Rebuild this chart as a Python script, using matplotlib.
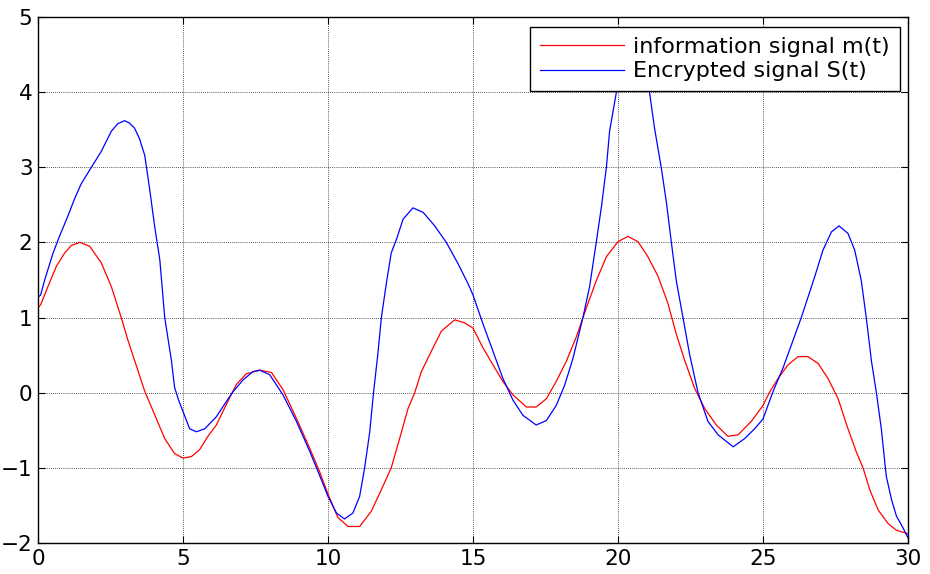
import matplotlib
matplotlib.use("Agg")
import matplotlib.pyplot as plt

# information signal m(t) (red)
t_m = [0.0, 0.09, 0.34, 0.63, 0.92, 1.15, 1.44, 1.78, 2.18, 2.53, 2.87, 3.10, 3.45, 3.68,
       4.02, 4.37, 4.71, 5.0, 5.29, 5.57, 5.86, 6.15, 6.49, 6.84, 7.18, 7.64, 8.05, 8.45,
       8.91, 9.37, 9.71, 10.0, 10.34, 10.69, 11.09, 11.49, 11.84, 12.18, 12.47, 12.76,
       12.99, 13.22, 13.56, 13.91, 14.37, 14.71, 15.0, 15.34, 15.69, 16.03, 16.38, 16.84,
       17.18, 17.53, 17.87, 18.22, 18.56, 18.91, 19.25, 19.60, 20.0, 20.34, 20.69, 21.03,
       21.38, 21.72, 22.01, 22.30, 22.64, 22.99, 23.39, 23.79, 24.14, 24.60, 25.0, 25.23,
       25.52, 25.86, 26.21, 26.55, 26.90, 27.24, 27.59, 27.93, 28.22, 28.45, 28.68, 28.97,
       29.31, 29.60, 29.94, 30.0]
m_vals = [1.13, 1.17, 1.41, 1.68, 1.86, 1.96, 2.0, 1.95, 1.73, 1.41, 1.0, 0.70, 0.29, 0.02,
          -0.29, -0.61, -0.81, -0.87, -0.85, -0.76, -0.58, -0.43, -0.16, 0.11, 0.25, 0.30, 0.27, 0.04,
          -0.34, -0.74, -1.05, -1.35, -1.66, -1.78, -1.78, -1.58, -1.29, -1.0, -0.61, -0.21,
          0.0, 0.28, 0.55, 0.82, 0.97, 0.93, 0.86, 0.60, 0.37, 0.15, -0.03, -0.19,
          -0.19, -0.08, 0.15, 0.42, 0.74, 1.13, 1.49, 1.81, 2.01, 2.08, 2.01, 1.81,
          1.55, 1.19, 0.78, 0.43, 0.06, -0.21, -0.43, -0.58, -0.56, -0.38, -0.17, 0.01,
          0.19, 0.37, 0.48, 0.48, 0.39, 0.19, -0.08, -0.48, -0.79, -1.0, -1.29, -1.56,
          -1.74, -1.83, -1.87, -1.88]

# Encrypted signal S(t) (blue)
t_s = [0.0, 0.09, 0.23, 0.52, 0.75, 1.03, 1.26, 1.49, 1.84, 2.18, 2.53, 2.75, 2.99, 3.15,
       3.33, 3.50, 3.68, 3.85, 4.02, 4.20, 4.37, 4.60, 4.71, 4.85, 5.0, 5.23, 5.46, 5.75,
       6.15, 6.49, 6.72, 7.07, 7.41, 7.64, 7.99, 8.45, 8.91, 9.37, 9.71, 10.0, 10.29, 10.57,
       10.86, 11.09, 11.26, 11.44, 11.57, 11.72, 11.84, 12.01, 12.18, 12.36, 12.59, 12.93,
       13.28, 13.68, 14.08, 14.48, 14.83, 15.0, 15.34, 15.69, 16.03, 16.38, 16.72, 17.18,
       17.53, 17.87, 18.16, 18.45, 18.79, 19.02, 19.25, 19.43, 19.60, 19.71, 19.94, 20.15,
       20.35, 20.5, 20.65, 20.85, 21.09, 21.26, 21.49, 21.67, 21.84, 22.01, 22.24, 22.47,
       22.76, 23.10, 23.45, 23.97, 24.37, 24.71, 25.0, 25.34, 25.69, 26.03, 26.32, 26.55,
       26.78, 27.07, 27.36, 27.62, 27.93, 28.16, 28.39, 28.56, 28.74, 28.91, 29.08, 29.25,
       29.43, 29.60, 29.83, 30.0]
s_vals = [1.27, 1.30, 1.50, 1.86, 2.09, 2.35, 2.58, 2.78, 3.0, 3.21, 3.48, 3.58, 3.62, 3.59,
          3.52, 3.38, 3.16, 2.71, 2.22, 1.77, 1.0, 0.43, 0.07, -0.10, -0.25, -0.48, -0.52, -0.48,
          -0.32, -0.12, 0.01, 0.17, 0.28, 0.30, 0.24, -0.03, -0.38, -0.78, -1.10, -1.38, -1.60, -1.68,
          -1.60, -1.38, -1.01, -0.52, 0.0, 0.52, 1.0, 1.45, 1.86, 2.04, 2.31, 2.46,
          2.40, 2.22, 2.0, 1.72, 1.45, 1.30, 0.92, 0.55, 0.19, -0.10, -0.30, -0.43,
          -0.37, -0.17, 0.10, 0.46, 1.0, 1.41, 2.0, 2.48, 3.0, 3.48, 3.99, 4.4,
          4.65, 4.7, 4.62, 4.35, 3.99, 3.52, 3.0, 2.53, 2.0, 1.49, 1.0, 0.51,
          0.0, -0.38, -0.56, -0.72, -0.61, -0.48, -0.35, 0.01, 0.33, 0.69, 1.0, 1.27,
          1.54, 1.90, 2.14, 2.22, 2.12, 1.90, 1.49, 1.0, 0.42, 0.0, -0.48, -1.11,
          -1.42, -1.64, -1.80, -1.93]

labels = ["information signal m(t)", "Encrypted signal S(t)"]
x_ticks = [0, 5, 10, 15, 20, 25, 30]
y_ticks = [-2, -1, 0, 1, 2, 3, 4, 5]

W, H = 930, 574
fig = plt.figure(figsize=(W / 100, H / 100), dpi=100)
ax = fig.add_axes([38 / W, 1 - 543 / H, (908 - 38) / W, (543 - 17) / H])

ax.plot(t_m, m_vals, color="#ff0000", lw=0.9, label=labels[0])
ax.plot(t_s, s_vals, color="#0000ff", lw=0.9, label=labels[1])

ax.set_xlim(0, 30)
ax.set_ylim(-2, 5)
ax.set_xticks(x_ticks)
ax.set_yticks(y_ticks)
ax.tick_params(direction="in", length=5, width=0.8, top=True, right=True,
               labelsize=15.5, pad=4, colors="black")
ax.grid(True, color="#222222", linestyle=(0, (1, 1.5)), linewidth=0.6)
for sp in ax.spines.values():
    sp.set_linewidth(1.0)
    sp.set_color("black")

leg = ax.legend(loc="upper right", bbox_to_anchor=(900 / W, 1 - 27 / H),
                bbox_transform=fig.transFigure, borderaxespad=0,
                fontsize=16, handlelength=3.8, handletextpad=0.4,
                labelspacing=0.2, borderpad=0.45, fancybox=False,
                framealpha=1, edgecolor="black")
leg.get_frame().set_linewidth(1.0)

fig.savefig("out.png", dpi=100)
